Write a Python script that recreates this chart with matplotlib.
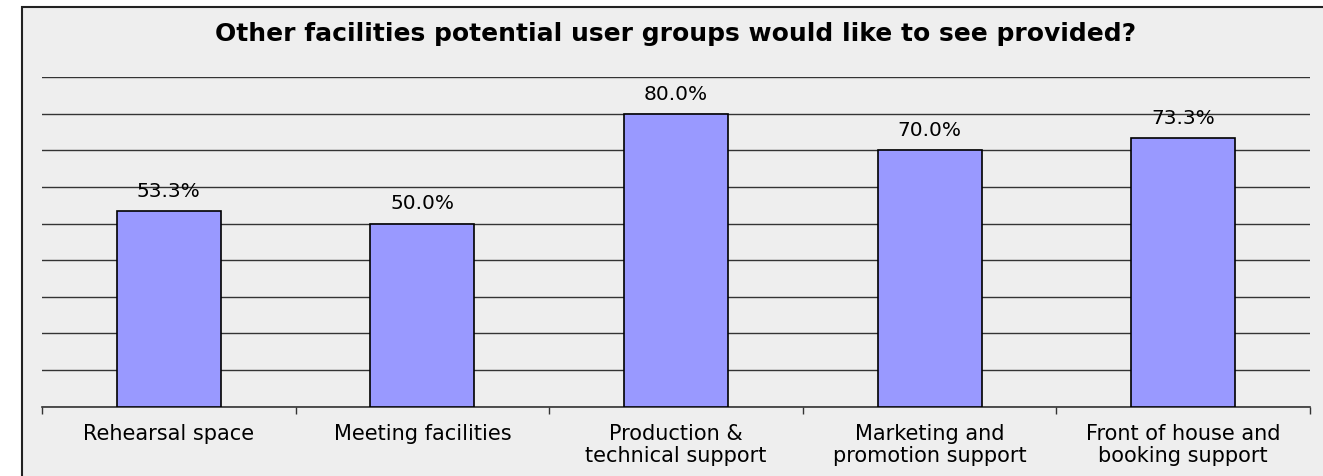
import matplotlib
matplotlib.use("Agg")
import matplotlib.pyplot as plt
from matplotlib.patches import Rectangle

# chart data
categories = ["Rehearsal space", "Meeting facilities", "Production &\ntechnical support",
              "Marketing and\npromotion support", "Front of house and\nbooking support"]
values = [53.3, 50.0, 80.0, 70.0, 73.3]
value_labels = ["53.3%", "50.0%", "80.0%", "70.0%", "73.3%"]

plt.rcParams['font.family'] = ['DejaVu Sans']

W, H = 1323, 477
fig = plt.figure(figsize=(W / 100, H / 100), dpi=100)
fig.patch.set_facecolor('white')

# grey chart area with border on left/top (runs off the image on right/bottom)
fig.patches.append(Rectangle((22 / W, -0.1), 1.2, 1 - 8 / H + 0.1, transform=fig.transFigure,
                             facecolor='#EEEEEE', edgecolor='#222222', linewidth=1.5, zorder=-1))

ax = fig.add_axes([42 / W, 1 - 407.7 / H, (1310 - 42) / W, (407.7 - 78) / H])
ax.patch.set_alpha(0)

x = list(range(len(categories)))
ax.bar(x, values, width=0.41, color='#9999FF', edgecolor='black', linewidth=1.2, zorder=3)

for xi, v, lab in zip(x, values, value_labels):
    ax.annotate(lab, (xi, v), xytext=(0, 8), textcoords='offset points',
                ha='center', va='bottom', fontsize=14.5, color='black')

ax.set_xlim(-0.5, len(categories) - 0.5)
ax.set_ylim(0, 90)

# horizontal gridlines
ax.set_yticks(range(0, 91, 10))
ax.yaxis.grid(True, color='#333333', linewidth=1.0, zorder=0)
ax.set_axisbelow(True)
ax.tick_params(axis='y', length=0, labelleft=False)

# tick marks at category boundaries, labels at centres
ax.set_xticks([i - 0.5 for i in range(len(categories) + 1)])
ax.set_xticklabels([])
ax.set_xticks(x, minor=True)
ax.set_xticklabels(categories, minor=True, fontsize=15, linespacing=1.1)
ax.tick_params(axis='x', which='major', length=5, width=1, color='#333333', direction='out')
ax.tick_params(axis='x', which='minor', length=0, pad=12)

for s in ['left', 'right', 'top']:
    ax.spines[s].set_visible(False)
ax.spines['bottom'].set_color('#333333')
ax.spines['bottom'].set_linewidth(1.2)

fig.text(676 / W, 1 - 34 / H, "Other facilities potential user groups would like to see provided?",
         ha='center', va='center', fontsize=18, fontweight='bold')

fig.savefig("out.png", dpi=100)
